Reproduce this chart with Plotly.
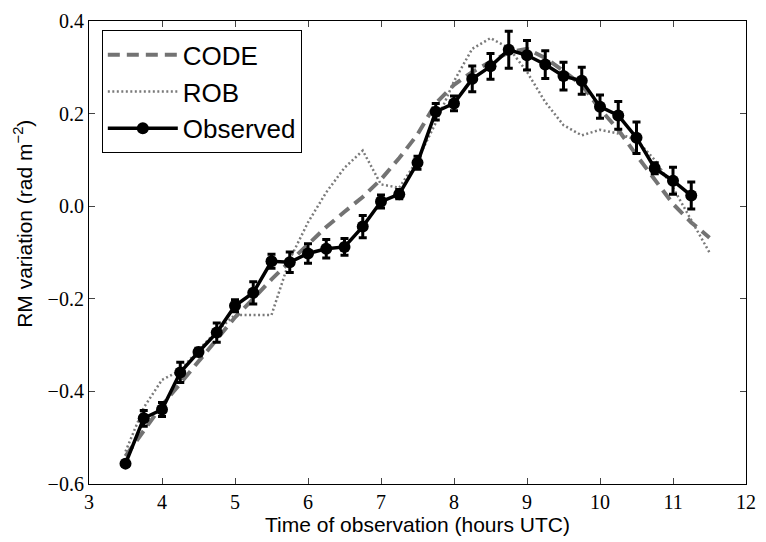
import plotly.graph_objects as go

# Observed RM variation
obs_t = [3.5, 3.75, 4.0, 4.25, 4.5, 4.75, 5.0, 5.25, 5.5, 5.75, 6.0, 6.25, 6.5, 6.75,
         7.0, 7.25, 7.5, 7.75, 8.0, 8.25, 8.5, 8.75, 9.0, 9.25, 9.5, 9.75, 10.0,
         10.25, 10.5, 10.75, 11.0, 11.25]
obs_v = [-0.556, -0.458, -0.439, -0.359, -0.315, -0.273, -0.215, -0.187, -0.119, -0.121,
         -0.102, -0.092, -0.088, -0.044, 0.010, 0.026, 0.094, 0.204, 0.222, 0.275,
         0.302, 0.338, 0.326, 0.306, 0.281, 0.271, 0.215, 0.196, 0.148, 0.082, 0.055, 0.023]
obs_err = [0.005, 0.017, 0.015, 0.022, 0.008, 0.021, 0.013, 0.024, 0.015, 0.022,
           0.021, 0.02, 0.018, 0.024, 0.014, 0.01, 0.014, 0.018, 0.016, 0.028,
           0.028, 0.04, 0.032, 0.03, 0.03, 0.029, 0.025, 0.03, 0.034, 0.012, 0.029, 0.029]

# Model curves
model_t = [3.5, 3.75, 4.0, 4.25, 4.5, 4.75, 5.0, 5.25, 5.5, 5.75, 6.0, 6.25, 6.5, 6.75,
           7.0, 7.25, 7.5, 7.75, 8.0, 8.25, 8.5, 8.75, 9.0, 9.25, 9.5, 9.75, 10.0,
           10.25, 10.5, 10.75, 11.0, 11.25, 11.5]
code_v = [-0.54, -0.485, -0.43, -0.383, -0.335, -0.29, -0.24, -0.2, -0.158, -0.12,
          -0.082, -0.045, -0.012, 0.02, 0.058, 0.104, 0.155, 0.222, 0.262, 0.29,
          0.312, 0.332, 0.34, 0.32, 0.292, 0.262, 0.21, 0.165, 0.11, 0.057, 0.005,
          -0.035, -0.068]
rob_v = [-0.53, -0.435, -0.375, -0.355, -0.31, -0.27, -0.235, -0.235, -0.235, -0.115,
         -0.035, 0.03, 0.083, 0.12, 0.047, 0.04, 0.1, 0.18, 0.27, 0.34,
         0.363, 0.342, 0.29, 0.225, 0.175, 0.153, 0.165, 0.157, 0.143, 0.1, 0.04,
         -0.03, -0.1]

x_ticks = [3, 4, 5, 6, 7, 8, 9, 10, 11, 12]
y_ticks = [-0.6, -0.4, -0.2, 0.0, 0.2, 0.4]

fig = go.Figure()
fig.add_trace(go.Scatter(
    x=model_t, y=code_v, mode="lines", name="CODE", legendgroup="a",
    line=dict(color="#737373", width=4, dash="12px,7px")))
fig.add_trace(go.Scatter(
    x=model_t, y=rob_v, mode="lines", name="ROB", legendgroup="b",
    line=dict(color="#7a7a7a", width=2.5, dash="2px,2.5px")))
fig.add_trace(go.Scatter(
    x=obs_t, y=obs_v, mode="lines+markers", name="Observed", legendgroup="c",
    line=dict(color="black", width=3.5),
    marker=dict(color="black", size=12),
    error_y=dict(type="data", array=obs_err, color="black", thickness=3, width=4)))

tickfont = dict(family="Liberation Serif, serif", size=20, color="black")
titlefont = dict(family="Liberation Sans, Arial, sans-serif", size=21, color="black")
fig.update_layout(
    width=766, height=542,
    margin=dict(l=89, r=10, t=13, b=54),
    plot_bgcolor="white", paper_bgcolor="white",
    showlegend=True,
    legend=dict(x=0.0195, y=0.98, xanchor="left", yanchor="top",
                bordercolor="black", borderwidth=1, bgcolor="white",
                font=dict(family="Liberation Sans, Arial, sans-serif", size=26, color="black"),
                itemwidth=70, tracegroupgap=0),
    xaxis=dict(range=[3, 12], tickvals=x_ticks, ticks="inside", ticklen=6,
               showline=True, linecolor="black", linewidth=1.2, mirror="ticks",
               showgrid=False, zeroline=False, tickfont=tickfont,
               title=dict(text="Time of observation (hours UTC)", standoff=4,
                          font=titlefont)),
    yaxis=dict(range=[-0.6, 0.4], tickvals=y_ticks, tickformat=".1f", ticks="inside",
               ticklen=6, showline=True, linecolor="black", linewidth=1.2,
               mirror="ticks", showgrid=False, zeroline=False, tickfont=tickfont),
    annotations=[dict(text="RM variation (rad m<sup>−2</sup>)", textangle=-90,
                      xref="paper", yref="paper", x=-0.1004, y=0.562,
                      xanchor="center", yanchor="middle", showarrow=False,
                      font=titlefont)],
)
fig.write_html("out.html")
